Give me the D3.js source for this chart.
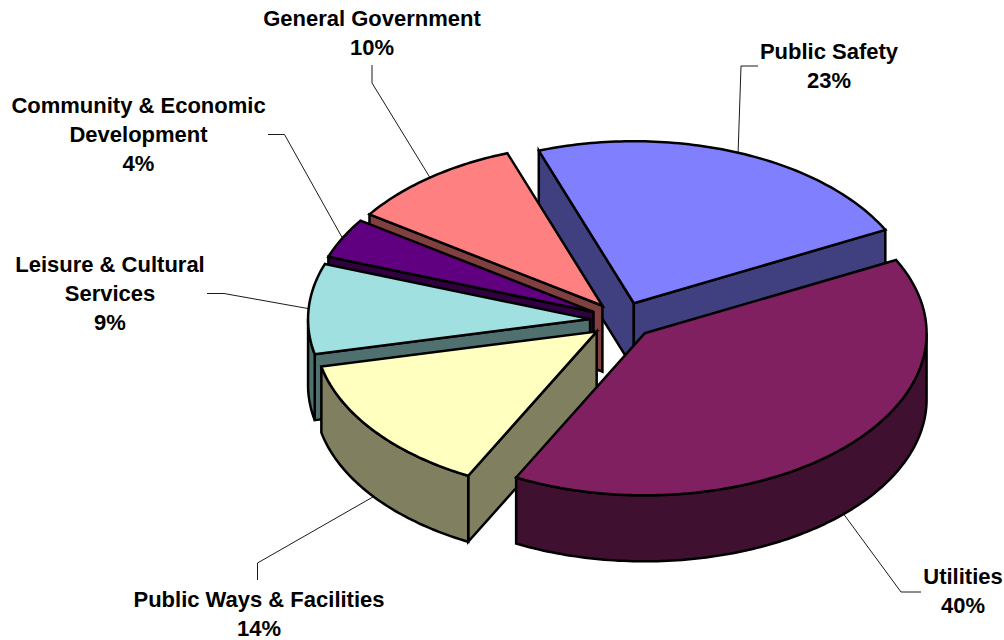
<!DOCTYPE html>
<html>
<head>
<meta charset="utf-8">
<title>Expenditures by function</title>
<script src="https://cdn.jsdelivr.net/npm/d3@7/dist/d3.min.js"></script>
<style>
  html, body { margin: 0; padding: 0; background: #fff; }
  svg { display: block; }
  text { font-family: "Liberation Sans", Arial, sans-serif; font-weight: 700; font-size: 22px; fill: #000; text-anchor: middle; }
</style>
</head>
<body>
<svg id="chart" width="1004" height="640"></svg>
<script>
// Slices in clockwise order
const categories = ["Public Safety", "Utilities", "Public Ways & Facilities",
                    "Leisure & Cultural Services", "Community & Economic Development", "General Government"];
const shares = [23, 40, 14, 9, 4, 10];
const topColors = ["#8080FF", "#802060", "#FFFFC0", "#A0E0E0", "#600080", "#FF8080"];
const wallColors = ["#404080", "#401030", "#808060", "#507070", "#300040", "#804040"];

// Label blocks and leader elbows, aligned with the slices above
const labelLines = [
  ["Public Safety"],
  ["Utilities"],
  ["Public Ways & Facilities"],
  ["Leisure & Cultural", "Services"],
  ["Community & Economic", "Development"],
  ["General Government"]
];
const labelAnchors = [[829, 58.5], [963, 583.5], [259, 606.5], [110, 271.5], [138.5, 113], [372, 25.5]];
const leaderElbows = [
  [[741, 66], [758, 66]],
  [[901, 592], [921, 592]],
  [[257.5, 563], [257.5, 580]],
  [[224, 293.5], [207, 293.5]],
  [[284.5, 134.5], [268, 134.5]],
  [[372, 83], [372, 65]]
];

const rad = d => d * Math.PI / 180;
const firstAngle = rad(-19.7);
const explode = 0.1135;
const lineGap = 29;

// Tilted ground plane: unit circle mapped to an ellipse on screen
const px = d3.scaleLinear().domain([-1, 1]).range([622 - 282, 622 + 282]);
const py = d3.scaleLinear().domain([-1, 1]).range([320.3 - 162, 320.3 + 162]);
const depth = 66;

const arcs = d3.pie().sort(null).startAngle(firstAngle).endAngle(firstAngle + 2 * Math.PI)(shares);

const svg = d3.select("#chart");
const outline = d3.line();

// Point on the plane at angle a (clockwise from the top) and radius r, around a slice's shifted centre
function planePoint(mid, a, r, drop) {
  const ux = explode * Math.sin(mid) + r * Math.sin(a);
  const uy = -explode * Math.cos(mid) - r * Math.cos(a);
  return [px(ux), py(uy) + drop];
}

function rim(mid, a0, a1, drop) {
  const n = Math.max(2, Math.ceil((a1 - a0) / rad(1)));
  return d3.range(n + 1).map(i => planePoint(mid, a0 + (a1 - a0) * i / n, 1, drop));
}

function shape(g, pts, fill) {
  g.append("path")
    .attr("d", outline(pts) + "Z")
    .attr("fill", fill)
    .attr("stroke", "#000")
    .attr("stroke-width", 2.5)
    .attr("stroke-linejoin", "miter");
}

function radialWall(g, mid, a, fill) {
  shape(g, [
    planePoint(mid, a, 0, 0), planePoint(mid, a, 1, 0),
    planePoint(mid, a, 1, depth), planePoint(mid, a, 0, depth)
  ], fill);
}

// Painter's order: from the back slice round the left side, then the large front slice
const paintOrder = [0, 5, 4, 3, 2, 1];

const leaders = svg.append("g").attr("class", "leaders");

paintOrder.forEach(i => {
  const d = arcs[i];
  const mid = (d.startAngle + d.endAngle) / 2;
  const g = svg.append("g").attr("class", "slice");
  const a0 = d.startAngle, a1 = d.endAngle;

  if (Math.sin(a0) < 0) radialWall(g, mid, a0, wallColors[i]);
  if (Math.sin(a1) > 0) radialWall(g, mid, a1, wallColors[i]);

  // The rim is only seen on the near half of the pie
  const v0 = Math.max(a0, rad(90)), v1 = Math.min(a1, rad(270));
  if (v1 > v0) {
    shape(g, rim(mid, v0, v1, 0).concat(rim(mid, v0, v1, depth).reverse()), wallColors[i]);
  }

  shape(g, [planePoint(mid, a0, 0, 0)].concat(rim(mid, a0, a1, 0)), topColors[i]);
});

// Leader lines start at the middle of each slice's rim
arcs.forEach((d, i) => {
  const mid = (d.startAngle + d.endAngle) / 2;
  const near = Math.cos(mid) < 0 ? depth : 0;
  const start = planePoint(mid, mid, 1, near);
  leaders.append("path")
    .attr("d", outline([start].concat(leaderElbows[i])))
    .attr("fill", "none")
    .attr("stroke", "#000")
    .attr("stroke-width", 0.9);
});
leaders.raise();

// Category names with their percentages underneath
categories.forEach((c, i) => {
  const [x, y] = labelAnchors[i];
  const lines = labelLines[i].concat(shares[i] + "%");
  const t = svg.append("text").attr("class", "label");
  lines.forEach((s, k) => {
    t.append("tspan").attr("x", x).attr("y", y + k * lineGap).text(s);
  });
});
</script>
</body>
</html>
